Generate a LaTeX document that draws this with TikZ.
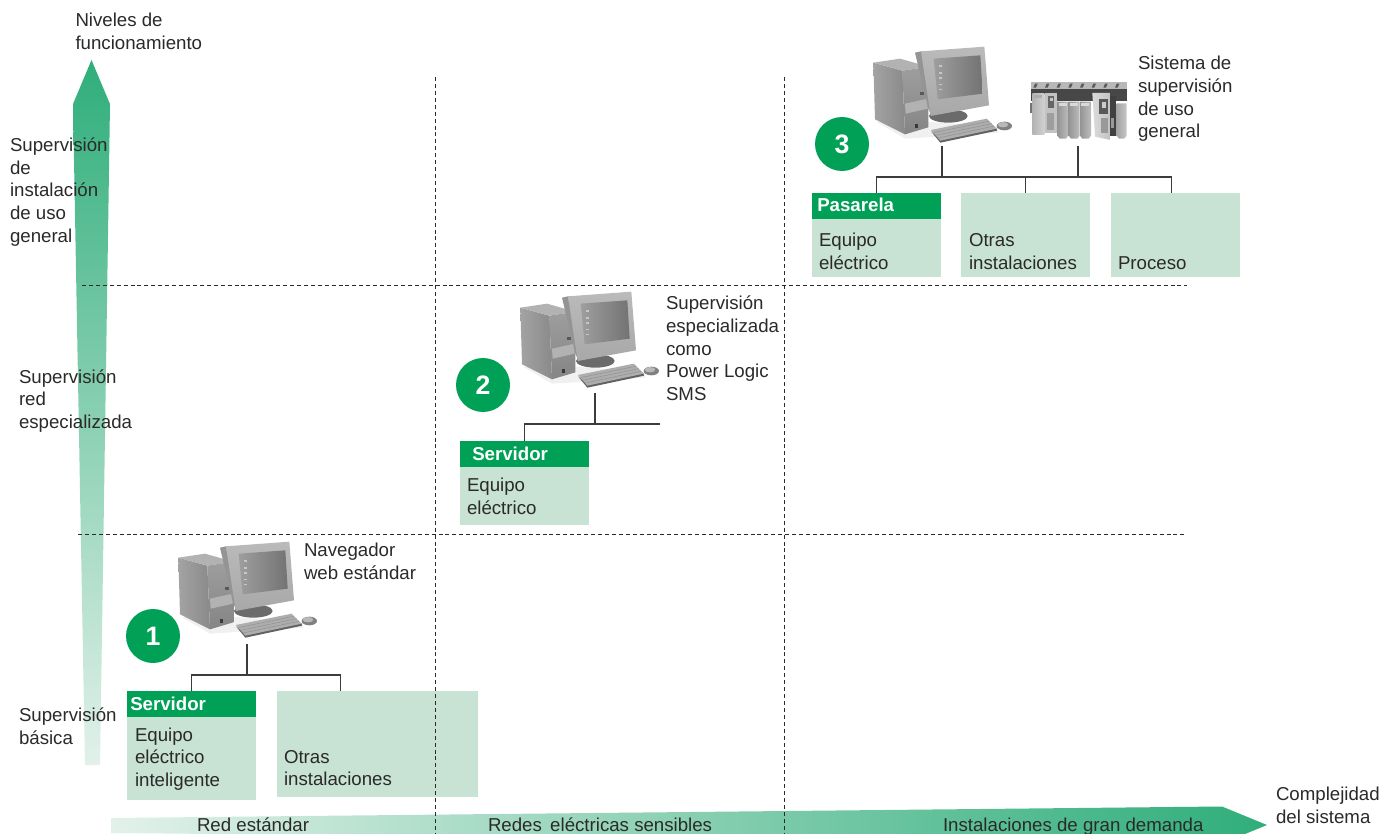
\documentclass[tikz,border=0pt]{standalone}
\usepackage{fontspec}
\usetikzlibrary{calc}
\setmainfont{Liberation Sans}
\definecolor{txt}{HTML}{2B2A29}
\definecolor{hdr}{HTML}{00A056}
\definecolor{pale}{HTML}{C8E2D4}
\definecolor{arrdark}{HTML}{2FAE7A}
\definecolor{arrlight}{HTML}{E2F1EA}
\definecolor{wire}{HTML}{3C3C3C}
\tikzset{
  lbl/.style={anchor=west,inner sep=0pt,outer sep=0pt,align=left,text=txt,
    font=\fontsize{14}{17}\selectfont},
  palebox/.style={fill=pale,inner sep=0pt,outer sep=0pt,anchor=north west,minimum width=96.75pt},
  hdrbox/.style={fill=hdr,inner sep=0pt,outer sep=0pt,anchor=north west,minimum width=96.75pt,minimum height=19.5pt},
  hdrtxt/.style={anchor=west,inner sep=0pt,text=white,font=\fontsize{14}{17}\selectfont\bfseries},
  badge/.style={circle,fill=hdr,minimum size=40.5pt,inner sep=0pt,text=white,font=\fontsize{20}{20}\selectfont\bfseries},
  wireline/.style={draw=wire,line width=1pt},
  guide/.style={draw=txt,line width=.6pt,dash pattern=on 3pt off 2.2pt},
  pics/computer/.style={code={
    \begin{scope}[scale=.33333]
      % soft shadow
      \fill[black!6] (35,240) -- (120,290) -- (400,272) -- (400,255) -- (200,240) -- cycle;
      % monitor stand
      \fill[black!58] (250,222) ellipse (58 and 20);
      % tower
      \shade[left color=black!36,right color=black!46] (25,62) -- (112,86) -- (120,277) -- (30,232) -- cycle;
      \fill[black!30] (25,62) -- (105,50) -- (190,74) -- (112,86) -- cycle;
      \shade[top color=black!38,bottom color=black!48] (112,86) -- (190,74) -- (190,256) -- (120,277) -- cycle;
      \fill[black!30] (120,185) -- (188,170) -- (188,200) -- (122,215) -- cycle;
      \fill[black!78] (150,247) rectangle (160,257);
      \fill[black!65] (166,150) rectangle (176,160);
      % monitor
      \fill[black!42] (150,32) -- (168,28) -- (208,40) -- (200,222) -- (190,200) -- cycle;
      \shade[top color=black!27,bottom color=black!34] (168,28) -- (358,14) -- (372,190) -- (197,222) -- cycle;
      \shade[left color=black!38,right color=black!55] (206,50) -- (346,40) -- (353,155) -- (218,172) -- cycle;
      \foreach \yy in {70,90,105,125,140}{\fill[black!22] (222,\yy) rectangle (232,\yy+5);}
      % keyboard
      \fill[black!62] (198,268) -- (226,302) -- (396,266) -- (394,258) -- (228,292) -- cycle;
      \fill[black!32] (198,264) -- (365,230) -- (395,260) -- (226,296) -- cycle;
      \foreach \t in {.25,.5,.75}{\draw[black!42,line width=.4pt] ($(198,264)!\t!(226,296)$) -- ($(365,230)!\t!(395,260)$);}
      % mouse
      \fill[black!50] (418,252) ellipse (23 and 13);
      \fill[black!28] (414,248) ellipse (16 and 8);
    \end{scope}
  }},
  pics/plc/.style={code={
    \begin{scope}[scale=.33333]
      \fill[black!28] (18,22) rectangle (305,44);
      \fill[black!72] (18,42) rectangle (305,78);
      \foreach \xx in {30,65,100,135,170,205,240,275}{\fill[black!65] (\xx,26) -- (\xx+8,26) -- (\xx+3,38) -- (\xx-5,38) -- cycle;}
      \fill[black!55] (15,85) rectangle (22,115);
      \shade[left color=black!30,right color=black!18] (22,55) rectangle (58,178);
      \fill[black!32] (28,60) rectangle (52,68);
      \fill[black!24] (60,55) rectangle (96,175);
      \fill[black!60] (68,62) rectangle (88,98);
      \fill[black!22] (74,68) rectangle (84,78);
      \fill[black!38] (66,115) rectangle (86,165);
      \foreach \xx in {97,131,165}{
        \shade[left color=black!42,right color=black!26] (\xx,80) -- (\xx+33,80) -- (\xx+33,182) -- (\xx+26,191) -- (\xx+7,191) -- (\xx,182) -- cycle;
        \fill[black!15] (\xx+4,84) rectangle (\xx+28,92);
      }
      \shade[left color=black!14,right color=black!24] (202,54) -- (256,54) -- (256,195) -- (210,185) -- cycle;
      \fill[black!65] (222,72) rectangle (250,118);
      \fill[black!20] (232,82) rectangle (244,98);
      \fill[black!40] (228,130) rectangle (250,175);
      \fill[black!75] (256,62) rectangle (272,182);
      \fill[black!40] (258,130) rectangle (268,160);
      \shade[left color=black!36,right color=black!22] (275,85) -- (305,85) -- (305,182) -- (298,191) -- (282,191) -- (275,182) -- cycle;
    \end{scope}
  }}
}
\begin{document}
\begin{tikzpicture}[x=.75pt,y=-.75pt]
\useasboundingbox (0,0) rectangle (1382,834);
\begin{scope}
\clip (0,0) rectangle (1382,834);
\shade[top color=arrdark,bottom color=arrlight] (91.5,60) -- (110,104) -- (100,765) -- (85,765) -- (73,104) -- cycle;
\shade[left color=arrlight,right color=arrdark] (111,818) -- (1222,806.5) -- (1267,825) -- (1222,843.5) -- (111,833) -- cycle;
\end{scope}

% boxes
\node[palebox,minimum height=81.75pt] (eb1) at (127,691) {};
\node[hdrbox] (hb1) at (127,691) {};
\node[palebox,minimum width=150.75pt,minimum height=79.5pt] (ob1) at (277,691) {};
\node[palebox,minimum height=63pt] (eb2) at (460,441) {};
\node[hdrbox] (hb2) at (460,441) {};
\node[palebox,minimum height=63pt] (eb3) at (812,193) {};
\node[hdrbox] (hb3) at (812,193) {};
\node[palebox,minimum height=63pt] (ob3) at (961,193) {};
\node[palebox,minimum height=63pt] (pb3) at (1111,193) {};

% guides
\coordinate (v1a) at (435,77); \coordinate (v1b) at (435,834);
\coordinate (v2a) at (784,77); \coordinate (v2b) at (784,834);
\coordinate (h1a) at (82,285); \coordinate (h1b) at (1187,285);
\coordinate (h2a) at (78,534); \coordinate (h2b) at (1184,534);
\draw[guide] (v1a) -- (v1b);
\draw[guide] (v2a) -- (v2b);
\draw[guide] (h1a) -- (h1b);
\draw[guide] (h2a) -- (h2b);

% equipment
\pic at (170,537) {computer};
\pic at (512,287) {computer};
\pic at (865,42) {computer};
\pic at (1025,75) {plc};

% connectors
\coordinate (pc1) at (247,644); \coordinate (j1) at (247,675);
\coordinate (pc2) at (595,393); \coordinate (j2) at (595,424); \coordinate (e2) at (660,424);
\coordinate (pc3) at (942,146); \coordinate (j3) at (942,177);
\coordinate (pl3) at (1078,146); \coordinate (k3) at (1078,177);
\draw[wireline] (pc1) -- (j1);
\draw[wireline] (hb1.north) |- (j1) -| ([xshift=-27.75pt]ob1.north);
\draw[wireline] (pc2) -- (j2);
\draw[wireline] (hb2.north) |- (j2) -- (e2);
\draw[wireline] (pc3) -- (j3);
\draw[wireline] (pl3) -- (k3);
\draw[wireline] (hb3.north) |- (j3) -- (k3) -| ([xshift=-3pt]pb3.north);
\draw[wireline] (ob3.north) -- (ob3.north |- j3);

% badges
\node[badge] (b1) at (153,636) {1};
\node[badge] (b2) at (483,385) {2};
\node[badge] (b3) at (842,144) {3};

% header text
\node[hdrtxt] (s1) at (130,704) {Servidor};
\node[hdrtxt] (s2) at (472,454) {Servidor};
\node[hdrtxt] (s3) at (817,205) {Pasarela};

% labels
\node[lbl] (n1) at (75.5,31) {Niveles de\\funcionamiento};
\node[lbl] (n2) at (10,192) {Supervisión\\de\\instalación\\de uso\\general};
\node[lbl] (n3) at (19,401) {Supervisión\\red\\especializada};
\node[lbl] (n4) at (19,726) {Supervisión\\básica};
\node[lbl] (n5) at (304,561) {Navegador\\web estándar};
\node[lbl] (n6) at (666,348.5) {Supervisión\\especializada\\como\\Power Logic\\SMS};
\node[lbl] (n7) at (1138,99) {Sistema de\\supervisión\\de uso\\general};
\node[lbl] (t1) at (135,759) {Equipo\\eléctrico\\inteligente};
\node[lbl] (t2) at (284,768) {Otras\\instalaciones};
\node[lbl] (t3) at (467,496) {Equipo\\eléctrico};
\node[lbl] (t4) at (819,251.5) {Equipo\\eléctrico};
\node[lbl] (t5) at (969,251.5) {Otras\\instalaciones};
\node[lbl] (t6) at (1118,263) {Proceso};
\node[lbl] (a1) at (197,825) {Red estándar};
\node[lbl] (a2) at (488,825) {Redes\ \,eléctricas sensibles};
\node[lbl] (a3) at (943,827) {Instalaciones de gran demanda};
\node[lbl] (a4) at (1276,805) {Complejidad\\del sistema};
\end{tikzpicture}
\end{document}
